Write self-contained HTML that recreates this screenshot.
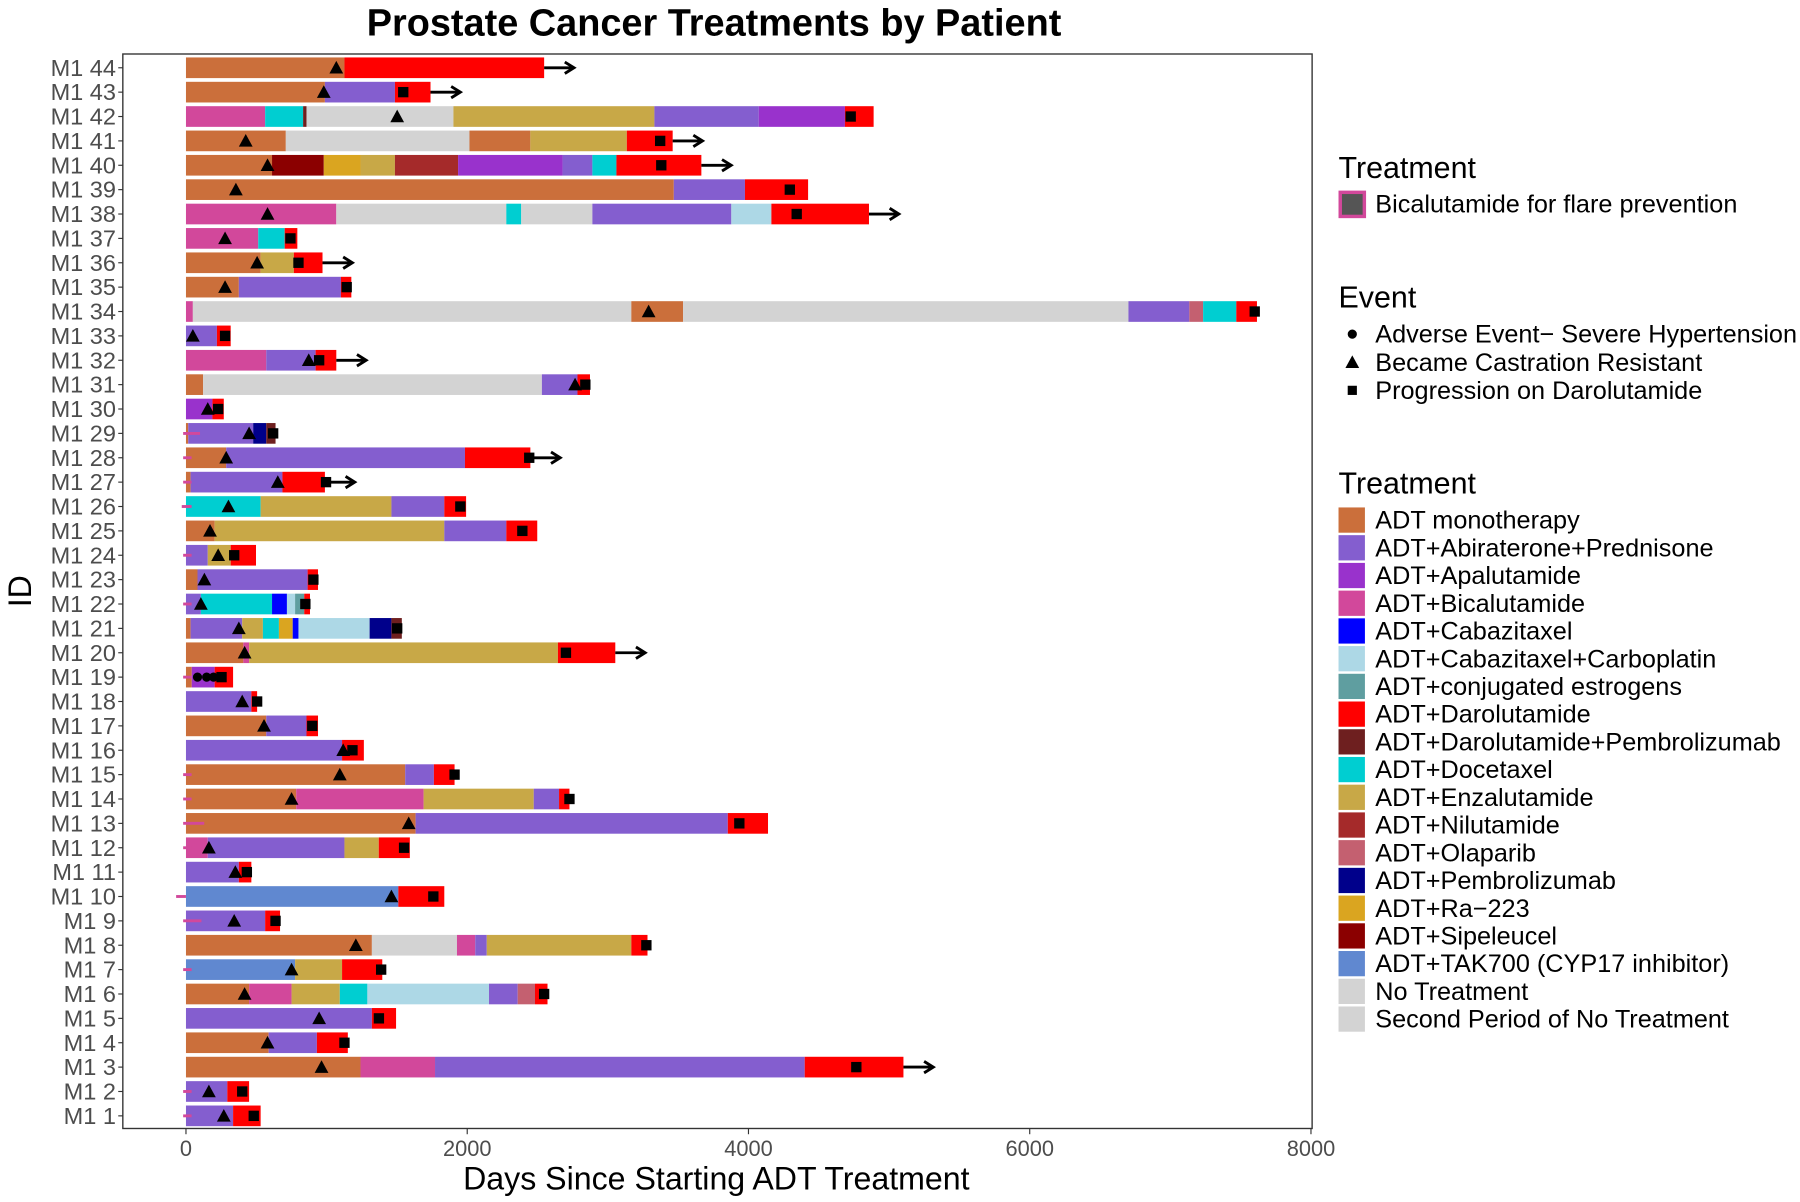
<!DOCTYPE html>
<html><head><meta charset="utf-8">
<style>
html,body{margin:0;padding:0;background:#fff;}
svg{display:block;font-family:"Liberation Sans",sans-serif;}
</style></head>
<body>
<svg id="chart" width="1800" height="1202" viewBox="0 0 1568 1047" xmlns="http://www.w3.org/2000/svg">
<text x="622" y="31" text-anchor="middle" font-size="33" font-weight="bold" fill="#000">Prostate Cancer Treatments by Patient</text>
<rect x="107" y="47" width="1036" height="936" fill="#fff" stroke="#333" stroke-width="1.2"/>
<g id="bars"></g>
<g id="yaxis"></g>
<g id="xaxis"></g>
<text x="624" y="1036" text-anchor="middle" font-size="28">Days Since Starting ADT Treatment</text>
<text transform="translate(27,515) rotate(-90)" text-anchor="middle" font-size="28">ID</text>
<g id="legend"></g>
</svg>
<script>
const NS="http://www.w3.org/2000/svg";
const treatNames=["ADT monotherapy","ADT+Abiraterone+Prednisone","ADT+Apalutamide","ADT+Bicalutamide","ADT+Cabazitaxel","ADT+Cabazitaxel+Carboplatin","ADT+conjugated estrogens","ADT+Darolutamide","ADT+Darolutamide+Pembrolizumab","ADT+Docetaxel","ADT+Enzalutamide","ADT+Nilutamide","ADT+Olaparib","ADT+Pembrolizumab","ADT+Ra−223","ADT+Sipeleucel","ADT+TAK700 (CYP17 inhibitor)","No Treatment","Second Period of No Treatment"];
const treatKeys=["ADT","ABI","APA","BIC","CAB","CCB","CON","DAR","DPM","DOC","ENZ","NIL","OLA","PEM","RA","SIP","TAK","NT","NT2"];
const treatColors=["#CB6F3B","#845ECF","#9932CC","#D2489B","#0000FF","#ADD8E6","#5F9EA0","#FF0000","#6E1F1F","#00CED1","#C8A847","#A52A2A","#C46070","#00008B","#DAA520","#8B0000","#6088D0","#D3D3D3","#D3D3D3"];
const xTicks=[0,2000,4000,6000,8000];
const patientIds=["M1 44","M1 43","M1 42","M1 41","M1 40","M1 39","M1 38","M1 37","M1 36","M1 35","M1 34","M1 33","M1 32","M1 31","M1 30","M1 29","M1 28","M1 27","M1 26","M1 25","M1 24","M1 23","M1 22","M1 21","M1 20","M1 19","M1 18","M1 17","M1 16","M1 15","M1 14","M1 13","M1 12","M1 11","M1 10","M1 9","M1 8","M1 7","M1 6","M1 5","M1 4","M1 3","M1 2","M1 1"];
const segments=[
[["ADT",0,1127],["DAR",1127,2547]],
[["ADT",0,988],["ABI",988,1486],["DAR",1486,1739]],
[["BIC",0,563],["DOC",563,833],["DPM",833,857],["NT",857,1902],["ENZ",1902,3331],["ABI",3331,4073],["APA",4073,4686],["DAR",4686,4890]],
[["ADT",0,710],["NT",710,2016],["ADT",2016,2449],["ENZ",2449,3135],["DAR",3135,3461]],
[["ADT",0,612],["SIP",612,980],["RA",980,1241],["ENZ",1241,1486],["NIL",1486,1935],["APA",1935,2678],["ABI",2678,2890],["DOC",2890,3061],["DAR",3061,3665]],
[["ADT",0,3469],["ABI",3469,3975],["DAR",3975,4424]],
[["BIC",0,1069],["NT",1069,2278],["DOC",2278,2384],["NT2",2384,2890],["ABI",2890,3878],["CCB",3878,4163],["DAR",4163,4857]],
[["BIC",0,514],["DOC",514,702],["DAR",702,792]],
[["ADT",0,531],["ENZ",531,767],["DAR",767,971]],
[["ADT",0,376],["ABI",376,1102],["DAR",1102,1176]],
[["BIC",0,49],["NT",49,3167],["ADT",3167,3535],["NT2",3535,6702],["ABI",6702,7135],["OLA",7135,7233],["DOC",7233,7469],["DAR",7469,7616]],
[["ABI",0,220],["DAR",220,318]],
[["BIC",0,571],["ABI",571,922],["DAR",922,1069]],
[["ADT",0,122],["NT",122,2531],["ABI",2531,2784],["DAR",2784,2873]],
[["APA",0,188],["DAR",188,269]],
[["ADT",0,16],["ABI",16,478],["PEM",478,571],["DPM",571,637]],
[["ADT",0,286],["ABI",286,1984],["DAR",1984,2449]],
[["ADT",0,33],["ABI",33,686],["DAR",686,988]],
[["DOC",0,531],["ENZ",531,1461],["ABI",1461,1837],["DAR",1837,1992]],
[["ADT",0,204],["ENZ",204,1837],["ABI",1837,2278],["DAR",2278,2498]],
[["ABI",0,155],["ENZ",155,318],["DAR",318,498]],
[["ADT",0,82],["ABI",82,865],["DAR",865,939]],
[["ABI",0,106],["DOC",106,612],["CAB",612,718],["CCB",718,776],["CON",776,841],["DAR",841,882]],
[["ADT",0,33],["ABI",33,400],["ENZ",400,547],["DOC",547,661],["RA",661,759],["CAB",759,800],["CCB",800,1306],["PEM",1306,1461],["DPM",1461,1535]],
[["ADT",0,408],["BIC",408,449],["ENZ",449,2645],["DAR",2645,3053]],
[["ADT",0,41],["APA",41,204],["DAR",204,335]],
[["ABI",0,465],["DAR",465,506]],
[["ADT",0,571],["ABI",571,857],["DAR",857,939]],
[["ABI",0,1110],["DAR",1110,1265]],
[["ADT",0,1559],["ABI",1559,1763],["DAR",1763,1910]],
[["ADT",0,784],["BIC",784,1690],["ENZ",1690,2473],["ABI",2473,2653],["DAR",2653,2727]],
[["ADT",0,1633],["ABI",1633,3853],["DAR",3853,4139]],
[["BIC",0,155],["ABI",155,1127],["ENZ",1127,1371],["DAR",1371,1592]],
[["ABI",0,376],["DAR",376,465]],
[["TAK",0,1510],["DAR",1510,1837]],
[["ABI",0,563],["DAR",563,669]],
[["ADT",0,1322],["NT",1322,1927],["BIC",1927,2057],["ABI",2057,2139],["ENZ",2139,3167],["DAR",3167,3282]],
[["TAK",0,776],["ENZ",776,1110],["DAR",1110,1396]],
[["ADT",0,449],["BIC",449,751],["ENZ",751,1094],["DOC",1094,1290],["CCB",1290,2155],["ABI",2155,2359],["OLA",2359,2482],["DAR",2482,2571]],
[["ABI",0,1322],["DAR",1322,1494]],
[["ADT",0,588],["ABI",588,931],["DAR",931,1151]],
[["ADT",0,1241],["BIC",1241,1771],["ABI",1771,4400],["DAR",4400,5102]],
[["ABI",0,294],["DAR",294,449]],
[["ABI",0,335],["DAR",335,531]]
];
const resistantDay=[1069,980,1502,425,580,355,580,278,506,278,3290,49,873,2767,155,449,286,653,302,171,229,131,106,376,417,null,400,555,1118,1094,751,1584,163,351,1461,343,1208,751,417,947,580,964,163,269];
const progressionDay=[null,1545,4727,3372,3380,4294,4343,743,800,1143,7600,278,947,2840,229,620,2441,996,1951,2392,343,906,849,1502,2702,253,506,898,1184,1910,2727,3935,1551,433,1759,637,3274,1388,2547,1372,1127,4767,400,482];
const ongoing=[1,1,0,1,1,0,1,0,1,0,0,0,1,0,0,0,1,1,0,0,0,0,0,0,1,0,0,0,0,0,0,0,0,0,0,0,0,0,0,0,0,1,0,0];
const hypertensionDays=[[],[],[],[],[],[],[],[],[],[],[],[],[],[],[],[],[],[],[],[],[],[],[],[],[],[82,147,196],[],[],[],[],[],[],[],[],[],[],[],[],[],[],[],[],[],[]];
const flareStart=[null,null,null,null,null,null,null,null,null,null,null,null,null,null,null,-20,-20,-20,-30,null,-20,null,-20,null,null,-20,null,null,null,-20,-20,-20,-20,null,-70,-20,null,-20,null,null,null,null,-20,-20];
const flareEnd=[null,null,null,null,null,null,null,null,null,null,null,null,null,null,null,100,40,40,40,null,40,null,40,null,null,40,null,null,null,40,40,130,40,null,0,110,null,40,null,null,null,null,40,40];

const X0=162,X1=1142;
const xScale=d=>X0+(d/8000)*(X1-X0);
const yScale=i=>59+i*((972-59)/43);
const BH=18;
function el(tag,attrs,parent){const e=document.createElementNS(NS,tag);for(const k in attrs)e.setAttribute(k,attrs[k]);parent.appendChild(e);return e;}
const bars=document.getElementById('bars');
const colorOf=k=>treatColors[treatKeys.indexOf(k)];
patientIds.forEach((id,i)=>{
  const y=yScale(i);
  segments[i].forEach(s=>{
    const r=el('rect',{x:xScale(s[1]),y:y-BH/2,width:Math.max(0.5,xScale(s[2])-xScale(s[1])),height:BH,fill:colorOf(s[0])},bars);
    
    
  });
  if(flareStart[i]!==null){
    const f=el('line',{x1:xScale(flareStart[i]),x2:xScale(flareEnd[i]),y1:y,y2:y,stroke:"#D2489B","stroke-width":2.5},bars);
    
    
  }
  const segs=segments[i];const end=segs[segs.length-1][2];
  if(ongoing[i]){
    const xe=xScale(end);
    const a=el('g',{},bars);
    
    
    el('line',{x1:xe,x2:xe+25,y1:y,y2:y,stroke:"#000","stroke-width":2.5},a);
    el('path',{d:`M${xe+18},${y-5} L${xe+26},${y} L${xe+18},${y+5}`,fill:"none",stroke:"#000","stroke-width":2.5},a);
  }
  if(resistantDay[i]!==null){
    const cx=xScale(resistantDay[i]);
    const t=el('path',{d:`M${cx},${y-6} L${cx+6},${y+5} L${cx-6},${y+5}Z`,fill:"#000"},bars);
    
    
  }
  if(progressionDay[i]!==null){
    const cx=xScale(progressionDay[i]);
    const q=el('rect',{x:cx-4.5,y:y-4.5,width:9,height:9,fill:"#000"},bars);
    
    
  }
  hypertensionDays[i].forEach(d=>{
    const c=el('circle',{cx:xScale(d),cy:y,r:4,fill:"#000"},bars);
    
    
  });
});
const ya=document.getElementById('yaxis');
patientIds.forEach((id,i)=>{
  const y=yScale(i);
  el('line',{x1:103,x2:107,y1:y,y2:y,stroke:"#333"},ya);
  const t=el('text',{x:101,y:y+7,"text-anchor":"end","font-size":20.5,fill:"#4d4d4d"},ya);
  t.textContent=id;
  
  
});
const xa=document.getElementById('xaxis');
xTicks.forEach(v=>{
  const x=xScale(v);
  el('line',{x1:x,x2:x,y1:983,y2:988,stroke:"#333"},xa);
  const t=el('text',{x:x,y:1007,"text-anchor":"middle","font-size":19,fill:"#4d4d4d"},xa);
  t.textContent=v;
  
  
});
const lg=document.getElementById('legend');
function txt(x,y,s,size,name){const t=el('text',{x:x,y:y,"font-size":size,fill:"#000"},lg);t.textContent=s;return t;}
txt(1166,155,"Treatment",26.5,'legend-title-flare');
const fb=el('rect',{x:1167.5,y:167.5,width:21,height:21,fill:"#555",stroke:"#D2489B","stroke-width":3},lg);


txt(1198,185,"Bicalutamide for flare prevention",22,'legend-entry');
txt(1166,268,"Event",26.5,'legend-title-event');
const evN=["Adverse Event− Severe Hypertension","Became Castration Resistant","Progression on Darolutamide"];
evN.forEach((s,k)=>{
  const y=291+k*24.5;
  if(k===0)el('circle',{cx:1178,cy:y,r:4,fill:"#000"},lg);
  if(k===1)el('path',{d:`M1178,${y-6} L1184,${y+5} L1172,${y+5}Z`,fill:"#000"},lg);
  if(k===2)el('rect',{x:1174,y:y-4,width:8,height:8,fill:"#000"},lg);
  txt(1198,y+7.5,s,22,'legend-entry');
});
txt(1166,430,"Treatment",26.5,'legend-title-treatment');
treatNames.forEach((s,k)=>{
  const y=453+k*24.15;
  const r=el('rect',{x:1166,y:y-11,width:23,height:22,fill:treatColors[k]},lg);
  
  
  txt(1198,y+7.5,s,22,'legend-entry');
});
</script>
</body></html>
